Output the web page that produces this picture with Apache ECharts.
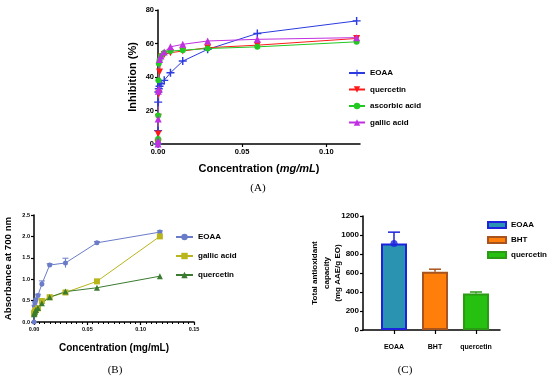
<!DOCTYPE html>
<html><head><meta charset="utf-8">
<script src="https://cdn.jsdelivr.net/npm/echarts@6/dist/echarts.min.js"></script>
<style>html,body{margin:0;padding:0;background:#fff}#c{width:550px;height:381px}</style>
</head><body><div id="c"></div>
<script>
// ---------- Panel A: inhibition (%) ----------
const concA = [0, 0.00006, 0.00012, 0.00023, 0.00046, 0.00092, 0.0018, 0.0037, 0.0074, 0.0147, 0.0295, 0.059, 0.118];
const eoaaA = [0, 8, 25, 31, 33, 34.5, 36, 38, 42.5, 49.5, 56.5, 66, 73.5];
const quercetinA = [0.5, 1, 6, 16, 30, 43, 52, 53.5, 54.5, 55.5, 57.5, 59, 63];
const ascorbicA = [0.5, 3, 17, 38, 48, 50, 52.5, 54.5, 55.5, 56, 57, 58, 61];
const gallicA = [0, 2, 15, 31.5, 33, 50.5, 52.5, 55, 58, 59.5, 61.5, 62.5, 63.5];
const xTicksA = [0, 0.05, 0.10];
// ---------- Panel B: absorbance at 700 nm ----------
const concB = [0, 0.00046, 0.0009, 0.0018, 0.0037, 0.0074, 0.0147, 0.0295, 0.059, 0.118];
const eoaaB = [0, 0.37, 0.45, 0.52, 0.62, 0.89, 1.33, 1.38, 1.85, 2.1];
const eoaaBerr = [0, 0.02, 0.02, 0.02, 0.03, 0.07, 0.03, 0.11, 0.03, 0.03];
const gallicB = [0.2, 0.22, 0.25, 0.28, 0.32, 0.49, 0.58, 0.69, 0.95, 2.0];
const quercetinB = [0.18, 0.2, 0.24, 0.28, 0.33, 0.44, 0.58, 0.71, 0.80, 1.07];
// ---------- Panel C: total antioxidant capacity ----------
const catC = ['EOAA', 'BHT', 'quercetin'];
const valC = [910, 612, 385];
const errUpC = [1030, 640, 400];

const FONT = '"Liberation Sans", Arial, sans-serif';
const pairs = (xs, ys) => xs.map((x, i) => [x, ys[i]]);
const axisLine = { show: true, onZero: false, lineStyle: { color: '#000', width: 1.5 } };
const axisTick = (len) => ({ show: true, length: len, lineStyle: { color: '#000', width: 1.2 } });
const lbl = (size, extra) => Object.assign({ color: '#000', fontWeight: 'bold', fontSize: size, fontFamily: FONT }, extra || {});

const colA = { eoaa: '#2b3be0', q: '#ff1a1a', asc: '#22c922', gal: '#c030e0' };
const colB = { eoaa: '#6a7cc8', gal: '#b9b51a', q: '#3b7b30' };
const plusPath = 'path://M-0.9,-5 L0.9,-5 L0.9,-0.9 L5,-0.9 L5,0.9 L0.9,0.9 L0.9,5 L-0.9,5 L-0.9,0.9 L-5,0.9 L-5,-0.9 L-0.9,-0.9 Z';

function lineSeries(name, xi, xs, ys, color, symbol, size, rotate) {
  return {
    type: 'line', name: name, xAxisIndex: xi, yAxisIndex: xi, data: pairs(xs, ys),
    symbol: symbol, symbolSize: size, symbolRotate: rotate || 0, showAllSymbol: true,
    lineStyle: { color: color, width: 1 }, itemStyle: { color: color }, animation: false
  };
}

function errRender(capHalf, colors, width) {
  return function (params, api) {
    const x = api.value(0), y = api.value(1), e = api.value(2);
    const color = Array.isArray(colors) ? colors[params.dataIndex] : colors;
    const p0 = api.coord([x, y]), p1 = api.coord([x, e]);
    return { type: 'group', children: [
      { type: 'line', shape: { x1: p0[0], y1: p0[1], x2: p1[0], y2: p1[1] }, style: { stroke: color, lineWidth: width } },
      { type: 'line', shape: { x1: p1[0] - capHalf, y1: p1[1], x2: p1[0] + capHalf, y2: p1[1] }, style: { stroke: color, lineWidth: width } }
    ] };
  };
}

const barColors = [
  { color: '#2a93b2', borderColor: '#1c22dd' },
  { color: '#ff7f0a', borderColor: '#a8541e' },
  { color: '#26c010', borderColor: '#2b9a14' }
];

const option = {
  animation: false,
  textStyle: { fontFamily: FONT },
  grid: [
    { left: 158, top: 10, width: 202, height: 134 },
    { left: 34, top: 215, width: 160, height: 107 },
    { left: 363, top: 216, width: 137, height: 114 }
  ],
  xAxis: [
    { gridIndex: 0, type: 'value', min: 0, max: 0.12, interval: 0.05,
      name: 'Concentration ({i|mg/mL})', nameLocation: 'middle', nameGap: 19,
      nameTextStyle: lbl(11, { rich: { i: { fontStyle: 'italic', fontWeight: 'bold', fontSize: 11, fontFamily: FONT } } }),
      axisLine: axisLine, axisTick: Object.assign(axisTick(3), { customValues: xTicksA }),
      axisLabel: lbl(7.5, { customValues: xTicksA, margin: 4, formatter: v => v.toFixed(2) }),
      splitLine: { show: false } },
    { gridIndex: 1, type: 'value', min: 0, max: 0.15, interval: 0.05,
      name: 'Concentration (mg/mL)', nameLocation: 'middle', nameGap: 21,
      nameTextStyle: lbl(10),
      axisLine: axisLine, axisTick: axisTick(3),
      minorTick: { show: true, splitNumber: 10, length: 2, lineStyle: { color: '#000', width: 1 } },
      axisLabel: lbl(5.5, { margin: 4, formatter: v => v.toFixed(2) }),
      splitLine: { show: false } },
    { gridIndex: 2, type: 'value', min: -0.756, max: 2.585,
      axisLine: axisLine, axisTick: Object.assign(axisTick(4), { customValues: [0, 1, 2] }),
      axisLabel: lbl(7, { customValues: [0, 1, 2], margin: 14, formatter: v => catC[Math.round(v)] }),
      splitLine: { show: false } }
  ],
  yAxis: [
    { gridIndex: 0, type: 'value', min: 0, max: 80, interval: 20,
      name: 'Inhibition (%)', nameLocation: 'middle', nameGap: 20, nameTextStyle: lbl(11),
      axisLine: axisLine, axisTick: axisTick(3), axisLabel: lbl(7.5, { margin: 4 }), splitLine: { show: false } },
    { gridIndex: 1, type: 'value', min: 0, max: 2.5, interval: 0.5,
      name: 'Absorbance at 700 nm', nameLocation: 'middle', nameGap: 21, nameTextStyle: lbl(9.7),
      axisLine: axisLine, axisTick: axisTick(3), axisLabel: lbl(5.5, { margin: 4, formatter: v => v.toFixed(1) }), splitLine: { show: false } },
    { gridIndex: 2, type: 'value', min: 0, max: 1200, interval: 200,
      name: 'Total antioxidant\ncapacity\n(mg AAE/g EO)', nameLocation: 'middle', nameGap: 19, nameMoveOverlap: false,
      nameTextStyle: lbl(8, { lineHeight: 11.5 }),
      axisLine: axisLine, axisTick: axisTick(3), axisLabel: lbl(8, { margin: 4, formatter: v => String(v) }), splitLine: { show: false } }
  ],
  legend: [
    { orient: 'vertical', left: 343, top: 64, itemGap: 8.5, itemWidth: 16, itemHeight: 8,
      data: ['A:EOAA', 'A:quercetin', 'A:ascorbic acid', 'A:gallic acid'],
      formatter: n => n.split(':')[1], textStyle: lbl(8) },
    { orient: 'vertical', left: 170, top: 228, itemGap: 11, itemWidth: 17, itemHeight: 8,
      data: ['B:EOAA', 'B:gallic acid', 'B:quercetin'],
      formatter: n => n.split(':')[1], textStyle: lbl(8) },
    { orient: 'vertical', left: 482, top: 216, itemGap: 7, itemWidth: 18, itemHeight: 6, icon: 'rect',
      data: catC.map(c => 'C:' + c),
      formatter: n => n.split(':')[1], textStyle: lbl(8) }
  ],
  graphic: [
    { type: 'text', x: 258, y: 188, style: { text: '(A)', font: '11px "Liberation Serif", serif', fill: '#000', textAlign: 'center', textVerticalAlign: 'middle' } },
    { type: 'text', x: 115, y: 370, style: { text: '(B)', font: '11px "Liberation Serif", serif', fill: '#000', textAlign: 'center', textVerticalAlign: 'middle' } },
    { type: 'text', x: 405, y: 370, style: { text: '(C)', font: '11px "Liberation Serif", serif', fill: '#000', textAlign: 'center', textVerticalAlign: 'middle' } }
  ],
  series: [
    lineSeries('A:EOAA', 0, concA, eoaaA, colA.eoaa, plusPath, 8),
    lineSeries('A:quercetin', 0, concA, quercetinA, colA.q, 'triangle', 7, 180),
    lineSeries('A:ascorbic acid', 0, concA, ascorbicA, colA.asc, 'circle', 6),
    lineSeries('A:gallic acid', 0, concA, gallicA, colA.gal, 'triangle', 7),
    lineSeries('B:EOAA', 1, concB, eoaaB, colB.eoaa, 'circle', 5),
    lineSeries('B:gallic acid', 1, concB, gallicB, colB.gal, 'rect', 6),
    lineSeries('B:quercetin', 1, concB, quercetinB, colB.q, 'triangle', 6),
    { type: 'custom', xAxisIndex: 1, yAxisIndex: 1, renderItem: errRender(3, colB.eoaa, 1),
      data: concB.map((x, i) => [x, eoaaB[i] - eoaaBerr[i], eoaaB[i] + eoaaBerr[i]]), z: 1, silent: true }
  ].concat(catC.map((c, i) => ({
    type: 'bar', name: 'C:' + c, xAxisIndex: 2, yAxisIndex: 2, data: [[i, valC[i]]],
    barWidth: 26, barGap: '-100%', itemStyle: { color: barColors[i].color, borderColor: barColors[i].borderColor, borderWidth: 2 }
  }))).concat([
    { type: 'custom', xAxisIndex: 2, yAxisIndex: 2,
      renderItem: errRender(6, barColors.map(b => b.borderColor), 1.5),
      data: catC.map((c, i) => [i, valC[i], errUpC[i]]), z: 1, silent: true },
    { type: 'scatter', xAxisIndex: 2, yAxisIndex: 2, data: [[0, valC[0]]], symbolSize: 7,
      itemStyle: { color: '#1c22dd' }, z: 5, silent: true }
  ])
};
echarts.init(document.getElementById('c')).setOption(option);
</script></body></html>
